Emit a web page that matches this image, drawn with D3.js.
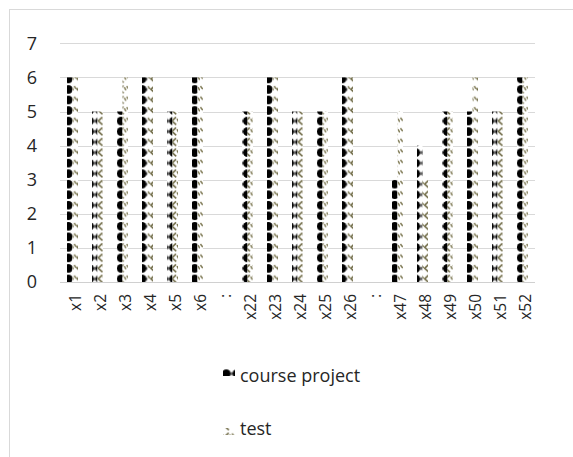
<!DOCTYPE html>
<html>
<head>
<meta charset="utf-8">
<script src="https://cdn.jsdelivr.net/npm/d3@7"></script>
<style>
  html, body { margin: 0; padding: 0; background: #fff; }
  svg { display: block; font-family: "Open Sans", "Liberation Sans", sans-serif; }
</style>
</head>
<body>
<svg id="chart" width="573" height="457"></svg>
<script>
// Category labels (":" marks skipped ranges of weeks)
const categories = ["x1","x2","x3","x4","x5","x6",":","x22","x23","x24","x25","x26",":","x47","x48","x49","x50","x51","x52"];
// Series values per category (null where nothing is plotted)
const courseProject = [6,5,5,6,5,6,null,5,6,5,5,6,null,3,4,5,5,5,6];
const testScores    = [6,5,6,6,5,6,null,5,6,5,5,6,null,5,3,5,6,5,6];
const seriesNames = ["course project", "test"];
const yTicks = [0,1,2,3,4,5,6,7];

const svg = d3.select("#chart");
const plot = { left: 60, right: 535, top: 43.3, bottom: 282 };

// Outer chart frame
svg.append("rect")
  .attr("x", 9.5).attr("y", 9.5)
  .attr("width", 620).attr("height", 520)
  .attr("fill", "#fff").attr("stroke", "#d9d9d9").attr("stroke-width", 1);

// Hatch patterns anchored to the page, like spreadsheet pattern fills
const T = 200 / 19;
const defs = svg.append("defs");
const pCP = defs.append("pattern")
  .attr("id", "pat-cp").attr("patternUnits", "userSpaceOnUse")
  .attr("width", T).attr("height", T);
pCP.append("rect").attr("width", T).attr("height", T).attr("fill", "#fff");
pCP.append("ellipse")
  .attr("cx", T / 2).attr("cy", T / 2).attr("rx", 4.3).attr("ry", 4.4)
  .attr("fill", "#000");
pCP.append("ellipse")
  .attr("cx", 0).attr("cy", T / 2).attr("rx", 0.6).attr("ry", 2)
  .attr("fill", "#000");
pCP.append("ellipse")
  .attr("cx", T).attr("cy", T / 2).attr("rx", 0.6).attr("ry", 2)
  .attr("fill", "#000");

const pT = defs.append("pattern")
  .attr("id", "pat-test").attr("patternUnits", "userSpaceOnUse")
  .attr("width", T).attr("height", T);
pT.append("rect").attr("width", T).attr("height", T).attr("fill", "#fff");
pT.append("path")
  .attr("d", "M7.6,1.4 L3.6,5.2 L7.8,9.0")
  .attr("fill", "none").attr("stroke", "#6f6a45").attr("stroke-width", 1.6)
  .attr("stroke-linejoin", "round");
pT.append("path")
  .attr("d", "M0.4,2.0 L2.6,4.8 M8.6,3.0 L10.3,6.2")
  .attr("fill", "none").attr("stroke", "#7d7852").attr("stroke-width", 1.5);

const fills = ["url(#pat-cp)", "url(#pat-test)"];

// Scales
const idx = categories.map((_, i) => i);
const x = d3.scaleBand().domain(idx).range([plot.left, plot.right]).padding(0);
const xs = d3.scaleBand().domain([0, 1]).range([7, 18]).padding(0);
const y = d3.scaleLinear().domain([0, 7]).range([plot.bottom, plot.top]);

// Horizontal gridlines
svg.append("g").selectAll("line").data(yTicks).join("line")
  .attr("x1", plot.left).attr("x2", plot.right)
  .attr("y1", d => Math.round(y(d)) + 0.5).attr("y2", d => Math.round(y(d)) + 0.5)
  .attr("stroke", d => d === 0 ? "#d0d0d0" : "#d9d9d9").attr("stroke-width", 1);

// Bars
const seriesData = [courseProject, testScores];
seriesData.forEach((vals, s) => {
  svg.append("g").selectAll("rect")
    .data(vals.map((v, i) => ({ i, v })).filter(d => d.v != null))
    .join("rect")
    .attr("x", d => x(d.i) + xs(s))
    .attr("width", xs.bandwidth())
    .attr("y", d => y(d.v))
    .attr("height", d => y(0) - y(d.v))
    .attr("fill", fills[s]);
});

// Y axis labels
const yAxis = d3.axisLeft(y).tickValues(yTicks).tickFormat(d3.format("d")).tickSize(0).tickPadding(0);
const gy = svg.append("g").attr("transform", "translate(37,0)").call(yAxis);
gy.select(".domain").remove();
gy.selectAll("text")
  .attr("font-family", "'Open Sans', sans-serif")
  .attr("font-size", 18).attr("fill", "#262626");

// X axis labels, rotated
const xAxis = d3.axisBottom(x).tickFormat(i => categories[i]).tickSize(0).tickPadding(0);
const gx = svg.append("g").attr("transform", "translate(0,294)").call(xAxis);
gx.select(".domain").remove();
gx.selectAll("text")
  .attr("font-family", "'Open Sans', sans-serif")
  .attr("font-size", 15.5).attr("fill", "#262626")
  .attr("text-anchor", "end")
  .attr("dy", "0.35em")
  .attr("transform", "translate(3.5,0) rotate(-90)")
  .attr("x", 0).attr("y", 0);

// Legend
const legend = svg.append("g");
const legendRows = [{ y: 382, ky: 369 }, { y: 435, ky: 428 }];
seriesNames.forEach((name, s) => {
  legend.append("rect")
    .attr("x", 223).attr("y", legendRows[s].ky)
    .attr("width", 12).attr("height", 7)
    .attr("fill", fills[s]);
  legend.append("text")
    .attr("x", 240).attr("y", legendRows[s].y)
    .attr("font-family", "'Open Sans', sans-serif")
    .attr("font-size", 18).attr("fill", "#262626")
    .text(name);
});
</script>
</body>
</html>
